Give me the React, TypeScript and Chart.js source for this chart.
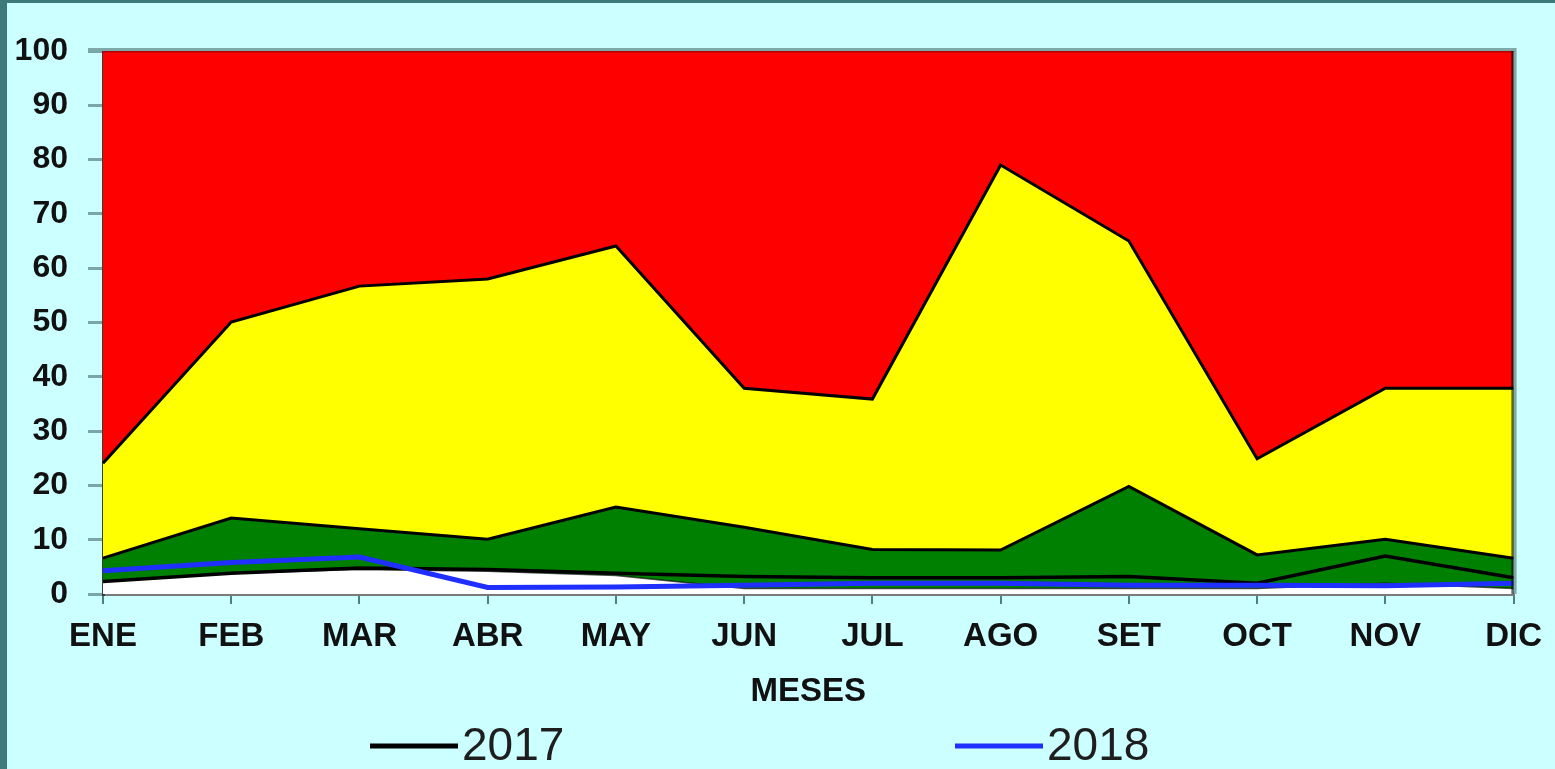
import React, { useEffect, useRef } from "react";
import { Chart, registerables } from "chart.js";

Chart.register(...registerables);

const MONTHS = ["ENE", "FEB", "MAR", "ABR", "MAY", "JUN", "JUL", "AGO", "SET", "OCT", "NOV", "DIC"];
const WHITE_TOP = [2.3, 3.8, 4.5, 4.2, 3.4, 1, 1, 1, 1, 1, 2, 1];
const GREEN_TOP = [6.6, 14, 12, 10.1, 16, 12.3, 8.2, 8.1, 19.8, 7.2, 10.1, 6.6];
const YELLOW_TOP = [24.1, 50.1, 56.7, 58, 64.1, 37.9, 35.9, 79, 65, 24.9, 37.9, 37.9];
const RED_TOP = [100, 100, 100, 100, 100, 100, 100, 100, 100, 100, 100, 100];
const SERIES_2017 = [2.3, 3.8, 4.8, 4.5, 3.8, 3.2, 3, 3, 3.2, 2, 7, 3];
const SERIES_2018 = [4.3, 5.8, 6.8, 1.2, 1.3, 1.6, 2, 2, 1.6, 1.6, 1.5, 2];
const X_TITLE = "MESES";
const Y_MIN = 0;
const Y_MAX = 100;
const Y_STEP = 10;

const FONT = "'Liberation Sans', Arial, sans-serif";

const framePlugin = {
  id: "frame",
  afterDatasetsDraw(chart: any) {
    const { ctx, chartArea } = chart;
    ctx.save();
    ctx.strokeStyle = "#7fa9a9";
    ctx.lineWidth = 3;
    ctx.beginPath();
    ctx.moveTo(chartArea.left - 15, chartArea.top - 1.5);
    ctx.lineTo(chartArea.right + 1.5, chartArea.top - 1.5);
    ctx.lineTo(chartArea.right + 1.5, chartArea.bottom);
    ctx.stroke();
    ctx.strokeStyle = "rgba(0,0,0,0.6)";
    ctx.lineWidth = 2.5;
    ctx.beginPath();
    ctx.moveTo(chartArea.right - 1, chartArea.top);
    ctx.lineTo(chartArea.right - 1, chartArea.bottom);
    ctx.stroke();
    ctx.restore();
  },
};

const legendPlugin = {
  id: "bottomLegend",
  afterDraw(chart: any) {
    const { ctx } = chart;
    const items = [
      { ds: 4, x: 370 },
      { ds: 5, x: 955 },
    ];
    const y = 746;
    ctx.save();
    for (const it of items) {
      const ds = chart.data.datasets[it.ds];
      ctx.strokeStyle = ds.borderColor;
      ctx.lineWidth = 5;
      ctx.beginPath();
      ctx.moveTo(it.x, y);
      ctx.lineTo(it.x + 88, y);
      ctx.stroke();
      ctx.fillStyle = "#1e1e1e";
      ctx.font = `46px ${FONT}`;
      ctx.textBaseline = "middle";
      ctx.textAlign = "left";
      ctx.fillText(ds.label, it.x + 92, y + 1);
    }
    ctx.restore();
  },
};

export default function App() {
  const ref = useRef<HTMLCanvasElement | null>(null);

  useEffect(() => {
    if (!ref.current) return;
    const area = (label: string, data: number[], color: string, fill: any, order: number, border = "#000", bw = 3) => ({
      label,
      data,
      backgroundColor: color,
      borderColor: border,
      borderWidth: bw,
      fill,
      pointRadius: 0,
      tension: 0,
      order,
    });
    const chart = new Chart(ref.current, {
      type: "line",
      data: {
        labels: MONTHS,
        datasets: [
          area("Blanco", WHITE_TOP, "#ffffff", "origin", 3, "rgba(0,0,0,0.7)", 1.5),
          area("Verde", GREEN_TOP, "#008000", "-1", 4),
          area("Amarillo", YELLOW_TOP, "#ffff00", "-1", 5),
          area("Rojo", RED_TOP, "#ff0000", "-1", 6, "#b00000", 3),
          {
            label: "2017",
            data: SERIES_2017,
            borderColor: "#000000",
            borderWidth: 3.5,
            fill: false,
            pointRadius: 0,
            tension: 0,
            order: 2,
          },
          {
            label: "2018",
            data: SERIES_2018,
            borderColor: "#1f2fff",
            borderWidth: 5,
            fill: false,
            pointRadius: 0,
            tension: 0,
            order: 1,
          },
        ],
      },
      options: {
        responsive: false,
        animation: false,
        devicePixelRatio: 1,
        layout: { padding: { left: 0, top: 51, right: 38, bottom: 0 } },
        plugins: {
          legend: { display: false },
          tooltip: { enabled: false },
        },
        scales: {
          x: {
            offset: false,
            grid: {
              display: true,
              drawOnChartArea: false,
              tickLength: 10,
              color: "#4f7f7f",
              lineWidth: 2,
            },
            border: { display: true, color: "#7a7a7a", width: 3 },
            ticks: {
              color: "#111111",
              font: { family: FONT, size: 33, weight: "bold" },
              padding: 13,
              maxRotation: 0,
              autoSkip: false,
            },
            title: {
              display: true,
              text: X_TITLE,
              color: "#111111",
              font: { family: FONT, size: 33, weight: "bold" },
              padding: { top: 0, bottom: 57 },
            },
            afterFit(scale: any) {
              scale.height = 175;
            },
          },
          y: {
            min: Y_MIN,
            max: Y_MAX,
            grid: {
              display: true,
              drawOnChartArea: false,
              tickLength: 15,
              color: "#7aa6a6",
              lineWidth: 3,
            },
            border: { display: true, color: "#3a3a3a", width: 3 },
            ticks: {
              stepSize: Y_STEP,
              color: "#111111",
              font: { family: FONT, size: 32, weight: "bold" },
              padding: 20,
            },
            afterFit(scale: any) {
              scale.width = 103;
            },
          },
        },
      },
      plugins: [framePlugin, legendPlugin],
    } as any);
    return () => chart.destroy();
  }, []);

  return (
    <div
      style={{
        position: "fixed",
        left: 0,
        top: 0,
        width: 1555,
        height: 769,
        boxSizing: "border-box",
        background: "#ccffff",
        borderLeft: "7px solid #3d7b7b",
        borderTop: "3px solid #3d7b7b",
      }}
    >
      <canvas
        ref={ref}
        width={1555}
        height={769}
        style={{ position: "fixed", left: 0, top: 0, width: 1555, height: 769 }}
      />
    </div>
  );
}
